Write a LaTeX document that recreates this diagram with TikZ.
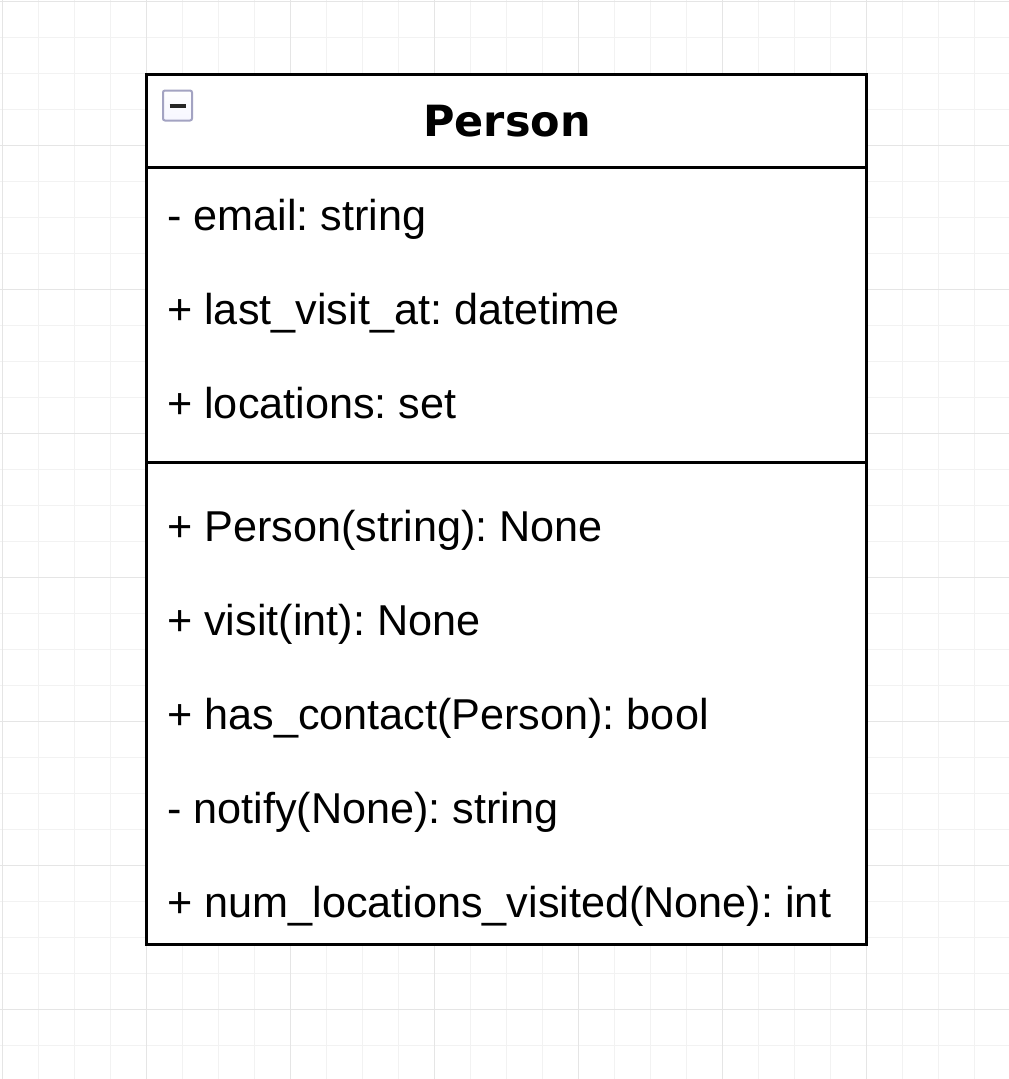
\documentclass[tikz,border=0pt]{standalone}
\usepackage{fontspec}
\setmainfont{Liberation Sans}
\newfontfamily\titlefont{DejaVu Sans}
\begin{document}
\frenchspacing
\begin{tikzpicture}[x=1pt,y=-1pt,
  minorgrid/.style={draw=black!5,line width=1pt},
  majorgrid/.style={draw=black!10,line width=1pt},
  boxline/.style={draw=black,line width=3pt},
  member/.style={anchor=base west,inner sep=0pt,font=\fontsize{43.2}{50}\selectfont},
  titlestyle/.style={inner sep=0pt,font=\titlefont\bfseries\fontsize{43}{50}\selectfont}]
\useasboundingbox (0,0) rectangle (1009,1079);
\fill[white] (0,0) rectangle (1009,1079);
% grid
\foreach \i in {0,...,28} {
  \pgfmathsetmacro\xx{2+36*\i}
  \draw[minorgrid] (\xx,0) -- (\xx,1079);
}
\foreach \i in {0,...,30} {
  \pgfmathsetmacro\yy{1+36*\i}
  \draw[minorgrid] (0,\yy) -- (1009,\yy);
}
\foreach \i in {0,...,6} {
  \pgfmathsetmacro\xx{2+144*\i}
  \draw[majorgrid] (\xx,0) -- (\xx,1079);
}
\foreach \i in {0,...,7} {
  \pgfmathsetmacro\yy{1+144*\i}
  \draw[majorgrid] (0,\yy) -- (1009,\yy);
}
% class box
\coordinate (tl) at (146,74);
\coordinate (br) at (866,944);
\fill[white] (tl) rectangle (br);
\coordinate (h1l) at (146,167);
\coordinate (h1r) at (866,167);
\coordinate (h2l) at (146,462);
\coordinate (h2r) at (866,462);
\draw[boxline] (h1l) -- (h1r);
\draw[boxline] (h2l) -- (h2r);
\draw[boxline] (tl) rectangle (br);
% collapse icon
\node[minimum width=29pt,minimum height=30pt,inner sep=0pt,
  rounded corners=2pt,top color=white!95!blue!8,bottom color=white!82!blue!18,
  draw=blue!20!gray!60,line width=2pt] (icon) at (177.5,105.5) {};
\draw[line width=4pt,black!85] ([xshift=-8pt]icon.center) -- ([xshift=8pt]icon.center);
% title
\node[titlestyle] (title) at (507,121) {Person};
% attributes
\node[member] (a1) at (167,230) {- email: string};
\node[member] (a2) at (167,324) {+ last\_visit\_at: datetime};
\node[member] (a3) at (167,418) {+ locations: set};
% methods
\node[member] (m1) at (167,541) {+ Person(string): None};
\node[member] (m2) at (167,635) {+ visit(int): None};
\node[member] (m3) at (167,729) {+ has\_contact(Person): bool};
\node[member] (m4) at (167,823) {- notify(None): string};
\node[member] (m5) at (167,917) {+ num\_locations\_visited(None): int};
\end{tikzpicture}
\end{document}
